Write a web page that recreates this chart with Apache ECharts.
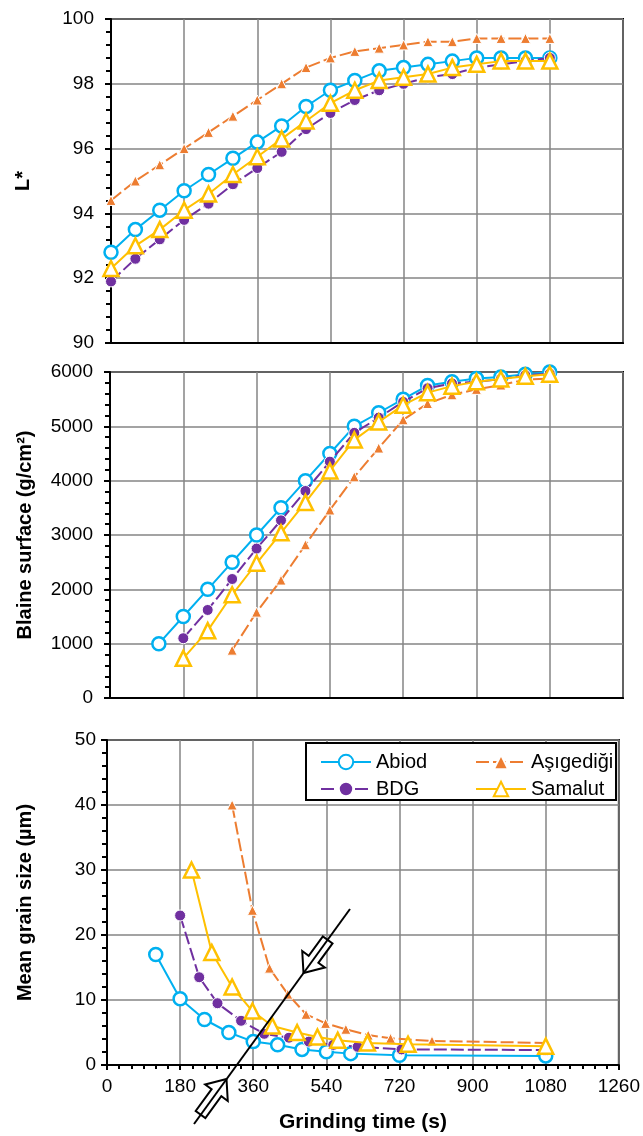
<!DOCTYPE html>
<html>
<head>
<meta charset="utf-8">
<script src="https://cdn.jsdelivr.net/npm/echarts@6/dist/echarts.min.js"></script>
<style>
  html, body { margin: 0; padding: 0; background: #fff; }
  #main { width: 643px; height: 1136px; }
</style>
</head>
<body>
<div id="main"></div>
<script>
// x ticks, shared by the three panels
var timeTicks = [0, 180, 360, 540, 720, 900, 1080, 1260];

// L* (top panel), every 60 s
var lTime = [0, 60, 120, 180, 240, 300, 360, 420, 480, 540, 600, 660, 720, 780, 840, 900, 960, 1020, 1080];
var lAbiod = [92.8, 93.5, 94.1, 94.7, 95.2, 95.7, 96.2, 96.7, 97.3, 97.8, 98.1, 98.4, 98.5, 98.6, 98.7, 98.8, 98.8, 98.8, 98.8];
var lAsig  = [94.4, 95.0, 95.5, 96.0, 96.5, 97.0, 97.5, 98.0, 98.5, 98.8, 99.0, 99.1, 99.2, 99.3, 99.3, 99.4, 99.4, 99.4, 99.4];
var lBdg   = [91.9, 92.6, 93.2, 93.8, 94.3, 94.9, 95.4, 95.9, 96.6, 97.1, 97.5, 97.8, 98.0, 98.2, 98.3, 98.5, 98.6, 98.7, 98.8];
var lSam   = [92.3, 93.0, 93.5, 94.1, 94.6, 95.2, 95.75, 96.3, 96.85, 97.4, 97.8, 98.1, 98.2, 98.3, 98.5, 98.6, 98.7, 98.7, 98.7];

// Blaine surface (middle panel)
var bAbiodT = [120, 180, 240, 300, 360, 420, 480, 540, 600, 660, 720, 780, 840, 900, 960, 1020, 1080];
var bAbiod  = [1000, 1500, 2000, 2500, 3000, 3500, 4000, 4500, 5000, 5250, 5500, 5750, 5820, 5880, 5910, 5960, 6000];
var bBdgT = [180, 240, 300, 360, 420, 480, 540, 600, 660, 720, 780, 840, 900, 960, 1020, 1080];
var bBdg  = [1100, 1620, 2190, 2750, 3270, 3810, 4350, 4880, 5160, 5450, 5700, 5790, 5820, 5870, 5940, 5970];
var bSamT = [180, 240, 300, 360, 420, 480, 540, 600, 660, 720, 780, 840, 900, 960, 1020, 1080];
var bSam  = [730, 1240, 1900, 2480, 3040, 3600, 4180, 4750, 5080, 5390, 5620, 5740, 5820, 5870, 5920, 5960];
var bAsigT = [300, 360, 420, 480, 540, 600, 660, 720, 780, 840, 900, 960, 1020, 1080];
var bAsig  = [880, 1580, 2170, 2820, 3460, 4070, 4600, 5120, 5420, 5580, 5680, 5760, 5860, 5880];

// mean grain size (bottom panel)
var gAbiodT = [120, 180, 240, 300, 360, 420, 480, 540, 600, 720, 1080];
var gAbiod  = [17.0, 10.2, 7.0, 5.0, 3.6, 3.1, 2.4, 2.05, 1.75, 1.5, 1.4];
var gBdgT = [180, 227, 272, 330, 387, 448, 497, 557, 617, 725, 1080];
var gBdg  = [23.0, 13.5, 9.5, 6.8, 4.8, 4.2, 3.6, 3.1, 2.8, 2.4, 2.3];
var gSamT = [208, 258, 308, 358, 407, 468, 518, 568, 641, 741, 1080];
var gSam  = [30.0, 17.3, 12.0, 8.3, 6.0, 5.0, 4.3, 3.8, 3.4, 3.2, 2.9];
var gAsigT = [308, 358, 400, 445, 490, 538, 588, 643, 698, 800, 1080];
var gAsig  = [40.0, 23.8, 14.9, 10.9, 7.8, 6.4, 5.5, 4.6, 4.1, 3.7, 3.4];

var names = ['Abiod', 'Aşıgediği', 'BDG', 'Samalut'];
var colors = ['#00B0F0', '#ED7D31', '#7030A0', '#FFC000'];

function pairs(xs, ys) {
    return xs.map(function (x, i) { return [x, ys[i]]; });
}

var chart = echarts.init(document.getElementById('main'));
var font = 'Liberation Sans, Arial, Helvetica, sans-serif';

// look of each series
function look(k) {
    if (k === 0) return { symbol: 'circle', symbolSize: 13, itemStyle: { color: '#fff', borderColor: colors[0], borderWidth: 2.5 }, lineStyle: { color: colors[0], width: 2 } };
    if (k === 1) return { symbol: 'triangle', symbolSize: 10, itemStyle: { color: colors[1], borderColor: '#fff', borderWidth: 1 }, lineStyle: { color: colors[1], width: 2, type: [13, 4] } };
    if (k === 2) return { symbol: 'circle', symbolSize: 11, itemStyle: { color: colors[2], borderColor: '#fff', borderWidth: 1 }, lineStyle: { color: colors[2], width: 2, type: [13, 4] } };
    return { symbol: 'triangle', symbolSize: 15, itemStyle: { color: '#fff', borderColor: colors[3], borderWidth: 2.5 }, lineStyle: { color: colors[3], width: 2 } };
}

var panels = [
    [pairs(lTime, lAbiod), pairs(lTime, lAsig), pairs(lTime, lBdg), pairs(lTime, lSam)],
    [pairs(bAbiodT, bAbiod), pairs(bAsigT, bAsig), pairs(bBdgT, bBdg), pairs(bSamT, bSam)],
    [pairs(gAbiodT, gAbiod), pairs(gAsigT, gAsig), pairs(gBdgT, gBdg), pairs(gSamT, gSam)]
];

var series = [];
panels.forEach(function (p, gi) {
    p.forEach(function (d, k) {
        var s = look(k);
        s.name = names[k];
        s.type = 'line';
        s.data = d;
        s.xAxisIndex = gi;
        s.yAxisIndex = gi;
        s.z = 2 + k;
        series.push(s);
    });
});

var black = { color: '#000', width: 2 };
var gridLine = { lineStyle: { color: '#858585', width: 1.5 } };
// no thousands separator
var plain = function (v) { return String(v); };

function xAxis(gi, showLabels) {
    return {
        type: 'value', gridIndex: gi, min: 0, max: 1260, interval: 180,
        axisLine: { lineStyle: black },
        axisTick: { show: showLabels, length: 5, lineStyle: black },
        minorTick: { show: showLabels, splitNumber: 6, length: 4, lineStyle: black },
        axisLabel: { show: showLabels, fontSize: 19, color: '#000', margin: 12, fontFamily: font, formatter: plain },
        splitLine: gridLine,
        name: showLabels ? 'Grinding time (s)' : '',
        nameLocation: 'middle', nameGap: 47,
        nameTextStyle: { fontSize: 21, fontWeight: 'bold', color: '#000', fontFamily: font }
    };
}

function yAxis(gi, min, max, step, title, gap, margin) {
    return {
        type: 'value', gridIndex: gi, min: min, max: max, interval: step,
        axisLine: { show: true, lineStyle: black },
        axisTick: { show: true, length: 6, lineStyle: black },
        minorTick: { show: true, splitNumber: 5, length: 5, lineStyle: black },
        axisLabel: { fontSize: 19, color: '#000', margin: margin, fontFamily: font, formatter: plain },
        splitLine: gridLine,
        name: title, nameLocation: 'middle', nameGap: gap,
        nameTextStyle: { fontSize: 20, fontWeight: 'bold', color: '#000', fontFamily: font }
    };
}

// hollow block arrow; (dx,dy) points from the tip to the tail
function arrow(tx, ty, dx, dy, len) {
    var px = -dy, py = dx;
    var hl = 17, hw = 14, sw = 6;
    function pt(a, b) { return [tx + dx * a + px * b, ty + dy * a + py * b]; }
    return {
        type: 'polygon', z: 20,
        shape: { points: [pt(0, 0), pt(hl, hw), pt(hl, sw), pt(len, sw), pt(len, -sw), pt(hl, -sw), pt(hl, -hw)] },
        style: { fill: '#fff', stroke: '#000', lineWidth: 2 }
    };
}

var option = {
    animation: false,
    backgroundColor: '#fff',
    textStyle: { fontFamily: font },
    grid: [
        { left: 111, right: 20, top: 19, height: 324, show: true, borderColor: '#000', borderWidth: 2 },
        { left: 110, right: 20, top: 372, height: 326, show: true, borderColor: '#000', borderWidth: 2 },
        { left: 107, right: 24, top: 740, height: 325, show: true, borderColor: '#000', borderWidth: 2 }
    ],
    xAxis: [xAxis(0, false), xAxis(1, false), xAxis(2, true)],
    yAxis: [
        yAxis(0, 90, 100, 2, 'L*', 78, 17),
        yAxis(1, 0, 6000, 1000, 'Blaine surface (g/cm²)', 75, 17),
        yAxis(2, 0, 50, 10, 'Mean grain size (µm)', 72, 11)
    ],
    // two legends so both columns line up
    legend: [
        { data: ['Abiod', 'BDG'], orient: 'vertical', left: 315, top: 747, itemWidth: 50, itemHeight: 18, itemGap: 7, z: 6,
          textStyle: { fontSize: 20, color: '#000', fontFamily: font } },
        { data: ['Aşıgediği', 'Samalut'], orient: 'vertical', left: 470, top: 747, itemWidth: 50, itemHeight: 18, itemGap: 7, z: 6,
          textStyle: { fontSize: 20, color: '#000', fontFamily: font } }
    ],
    graphic: [
        { type: 'rect', z: 5, shape: { x: 306, y: 743, width: 310, height: 57 }, style: { fill: '#fff', stroke: '#000', lineWidth: 2 } },
        arrow(303.5, 973, 0.59, -0.807, 41),
        arrow(226.5, 1079, -0.59, 0.807, 44),
        { type: 'line', z: 21, shape: { x1: 194, y1: 1124, x2: 350, y2: 909 }, style: { stroke: '#000', lineWidth: 2 } }
    ],
    series: series
};

chart.setOption(option);
</script>
</body>
</html>
